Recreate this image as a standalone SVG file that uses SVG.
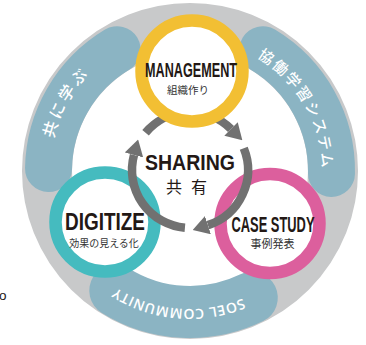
<svg xmlns="http://www.w3.org/2000/svg" width="366" height="345" viewBox="0 0 366 345">
<style>
.band{fill:none;stroke:#8BB4C3;stroke-width:47;stroke-linecap:round}
.ring{fill:#fff;stroke-width:12.5}
.arr{fill:none;stroke:#717171;stroke-width:8.5;marker-end:url(#ah)}
.bt{fill:#fff;font-family:"Noto Sans CJK JP",sans-serif;font-weight:500}
.lat{fill:#fff;font-family:"Open Sans","Liberation Sans",sans-serif;font-weight:600}
.big{fill:#231815;font-family:"Liberation Sans Narrow","Liberation Sans",sans-serif;font-weight:bold;text-anchor:middle}
.jp{fill:#333;font-family:"Noto Sans CJK JP",sans-serif;text-anchor:middle}
</style>
<defs>
<marker id="ah" markerUnits="userSpaceOnUse" orient="auto" markerWidth="16" markerHeight="19" refX="0" refY="9.5">
<path d="M0,0 L16,9.5 L0,19 Z" fill="#717171"/>
</marker>
<path id="pl" d="M52.57,197.7 A140,140 0 0 1 139.82,40.30"/>
<path id="pr" d="M235.15,46.96 A132,132 0 0 1 319.99,193.92"/>
<path id="pb" d="M303.0,250.2 A138,138 0 0 1 64.93,229.3"/>
</defs>
<rect width="366" height="345" fill="#fff"/>
<g id="outer-ring">
<circle cx="190" cy="171" r="143" fill="none" stroke="#C8C9CA" stroke-width="50"/>
</g>
<g id="band-left">
<path class="band" d="M48.52,168.53 A141.5,141.5 0 0 1 117.12,49.71"/>
<text class="bt" font-size="16" letter-spacing="3"><textPath href="#pl" startOffset="50%" text-anchor="middle">共に学ぶ</textPath></text>
</g>
<g id="band-right">
<path class="band" d="M262.88,49.71 A141.5,141.5 0 0 1 331.48,173.47"/>
<text class="bt" font-size="15" letter-spacing="2"><textPath href="#pr" startOffset="50%" text-anchor="middle">協働学習システム</textPath></text>
</g>
<g id="band-bottom">
<path class="band" style="stroke-width:52" d="M251.81,297.73 A141,141 0 0 1 115.27,290.58"/>
<text class="lat" font-size="14" letter-spacing="0.5"><textPath href="#pb" startOffset="50%" text-anchor="middle">SOEL COMMUNITY</textPath></text>
</g>
<g id="digitize">
<circle class="ring" cx="105" cy="222" r="49.5" stroke="#45BBBF"/>
</g>
<g id="case-study">
<circle class="ring" cx="270" cy="223.5" r="49.5" stroke="#DC5F9D"/>
</g>
<g id="connectors">
<path class="arr" d="M145.57,132.72 A58,58 0 0 1 231.01,128.99"/>
<path class="arr" d="M243.78,148.27 A58,58 0 0 1 207.92,225.16"/>
<path class="arr" d="M184.94,227.78 A58,58 0 0 1 133.98,154.99"/>
</g>
<g id="management">
<circle class="ring" cx="192" cy="71" r="50.5" stroke="#F2BF33"/>
<text class="big" x="191" y="77" font-size="21" textLength="92" lengthAdjust="spacingAndGlyphs">MANAGEMENT</text>
<text class="jp" x="188" y="94" font-size="10.5">組織作り</text>
</g>
<g id="digitize-label">
<text class="big" x="105" y="230" font-size="23" textLength="80" lengthAdjust="spacingAndGlyphs">DIGITIZE</text>
<text class="jp" x="104" y="246.5" font-size="10">効果の見える化</text>
</g>
<g id="case-study-label">
<text class="big" x="273" y="232" font-size="22" textLength="83" lengthAdjust="spacingAndGlyphs">CASE STUDY</text>
<text class="jp" x="272.5" y="247.5" font-size="11">事例発表</text>
</g>
<g id="sharing">
<text class="big" x="190" y="170" font-size="21.5" textLength="90" lengthAdjust="spacingAndGlyphs" style="font-family:'Liberation Sans',sans-serif">SHARING</text>
<text x="166" y="193" font-size="16" letter-spacing="9" fill="#231815" font-family="Noto Sans CJK JP, sans-serif">共有</text>
</g>
<text x="-1" y="300" font-size="13.5" fill="#231815" font-family="Liberation Sans, sans-serif">o</text>
</svg>
